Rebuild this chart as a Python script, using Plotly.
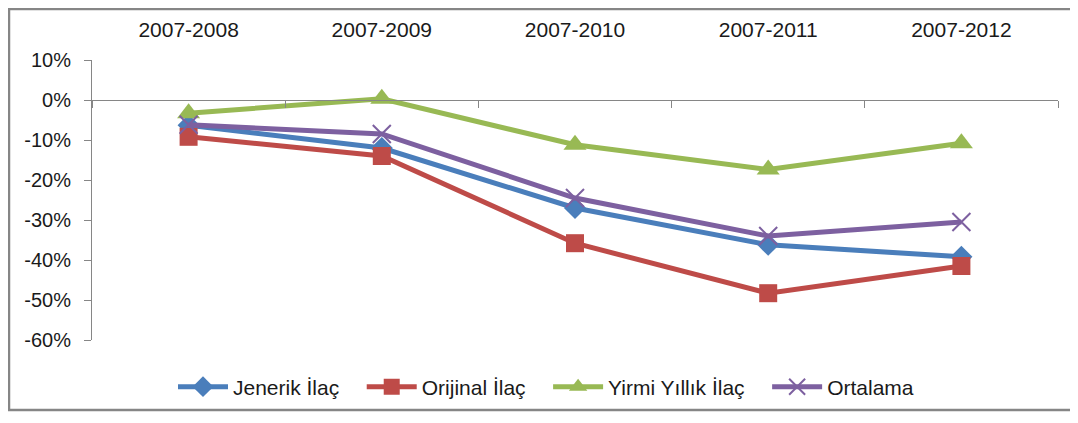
import plotly.graph_objects as go

categories = ["2007-2008", "2007-2009", "2007-2010", "2007-2011", "2007-2012"]
jenerik = [-6.3, -12.0, -27.0, -36.2, -39.2]
orijinal = [-9.2, -14.0, -35.8, -48.3, -41.5]
yirmi = [-3.3, 0.3, -11.2, -17.4, -10.8]
ortalama = [-6.2, -8.5, -24.5, -34.0, -30.5]
series_names = ["Jenerik İlaç", "Orijinal İlaç", "Yirmi Yıllık İlaç", "Ortalama"]
y_tick_values = [10, 0, -10, -20, -30, -40, -50, -60]
y_tick_labels = ["10%", "0%", "-10%", "-20%", "-30%", "-40%", "-50%", "-60%"]

styles = [
    ("#4A7EBB", "diamond", 17, None),
    ("#BE4B48", "square", 18, None),
    ("#98B954", "triangle-up", 20, None),
    ("#7D60A0", "x-thin", 18, 2),
]
pad = "\u00a0" * 3  # extra gap between legend entries

fig = go.Figure()
for name, vals, (color, sym, size, lw) in zip(series_names, [jenerik, orijinal, yirmi, ortalama], styles):
    marker = dict(symbol=sym, size=size, color=color)
    marker["line"] = dict(width=lw, color=color) if lw else dict(width=0)
    fig.add_trace(go.Scatter(
        x=categories, y=vals, name=name + pad, mode="lines+markers",
        line=dict(color=color, width=5), marker=marker,
    ))

# dummy trace for the boundary-tick axis at 0%
fig.add_trace(go.Scatter(x=categories, y=[None] * len(categories), xaxis="x2",
                         showlegend=False, hoverinfo="skip", mode="lines"))

font_fam = "Liberation Sans, Arial, sans-serif"
axis_gray = "#868686"

# page has an 8px body margin; figure coordinates = page - 8
L, T, PW, PH = 84, 52, 966, 280

fig.update_layout(
    width=1078, height=423,
    margin=dict(l=L, r=1078 - L - PW, t=T, b=423 - T - PH),
    paper_bgcolor="white", plot_bgcolor="white",
    font=dict(family=font_fam, color="#1a1a1a"),
    showlegend=True,
    legend=dict(orientation="h", x=(165 - L) / PW, xanchor="left", y=-0.168, yanchor="middle",
                font=dict(size=21, color="#1a1a1a"), itemwidth=50,
                bgcolor="rgba(0,0,0,0)", traceorder="normal"),
    xaxis=dict(type="category", side="top", range=[-0.5, 4.5], automargin=False,
               showline=False, showgrid=False, zeroline=False, ticks="",
               tickfont=dict(size=21), ticklabelstandoff=18),
    xaxis2=dict(type="category", overlaying="x", matches="x", anchor="free",
                position=60 / 70, side="bottom", range=[-0.5, 4.5], automargin=False,
                showline=True, linecolor=axis_gray, linewidth=1,
                ticks="outside", tickson="boundaries", ticklen=7, tickcolor=axis_gray,
                showticklabels=False, showgrid=False, zeroline=False),
    yaxis=dict(range=[-60, 10], tickvals=y_tick_values, ticktext=y_tick_labels,
               automargin=False, ticklabelstandoff=9,
               showline=True, linecolor=axis_gray, linewidth=1,
               ticks="outside", ticklen=7, tickcolor=axis_gray,
               showgrid=False, zeroline=False, tickfont=dict(size=20)),
    shapes=[dict(type="rect", xref="paper", yref="paper",
                 x0=(1 - L) / PW, x1=1.2, y0=(T + PH - 402) / PH, y1=(T + PH - 1) / PH,
                 line=dict(color=axis_gray, width=2.5), fillcolor="rgba(0,0,0,0)", layer="below")],
)

fig.write_html("out.html")
